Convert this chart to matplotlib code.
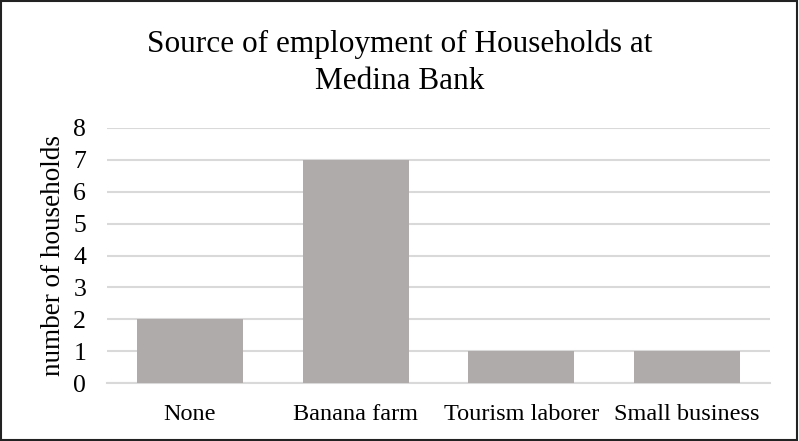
import matplotlib.pyplot as plt
from matplotlib.patches import Rectangle

# Employment categories and household counts
categories = ['None', 'Banana farm', 'Tourism laborer', 'Small business']
households = [2, 7, 1, 1]
y_ticks = [0, 1, 2, 3, 4, 5, 6, 7, 8]

plt.rcParams['font.family'] = ['Liberation Serif', 'DejaVu Serif']

fig = plt.figure(figsize=(7.99, 4.41), dpi=100)
ax = fig.add_axes([107 / 799, 1 - 383 / 441, 663 / 799, 255 / 441])

x = range(len(categories))
ax.bar(x, households, width=0.64, color='#AFABAB', zorder=3)

ax.set_xlim(-0.5, len(categories) - 0.5)
ax.set_ylim(0, 8)
ax.set_yticks(y_ticks)
ax.set_xticks(list(x))
ax.set_xticklabels(categories)
ax.tick_params(axis='both', length=0)
ax.tick_params(axis='x', pad=15, labelsize=17.5)
ax.tick_params(axis='y', pad=15, labelsize=18.5)
ax.grid(axis='y', color='#D9D9D9', linewidth=1.5, zorder=0)
for side in ['top', 'right', 'left']:
    ax.spines[side].set_visible(False)
ax.spines['bottom'].set_color('#D9D9D9')
ax.spines['bottom'].set_linewidth(1.5)

ax.set_ylabel('number of households', fontsize=19.5, labelpad=5)

fig.text(0.5, 1 - 52 / 441, 'Source of employment of Households at',
         ha='center', va='baseline', fontsize=22.5)
fig.text(0.5, 1 - 89 / 441, 'Medina Bank',
         ha='center', va='baseline', fontsize=22.5)

# Outer frame around the whole chart
fig.patches.append(Rectangle((0.001, 0.002), 0.997, 0.995, transform=fig.transFigure,
                             fill=False, edgecolor='#222222', linewidth=1.5))

fig.savefig('out.png', dpi=100)
